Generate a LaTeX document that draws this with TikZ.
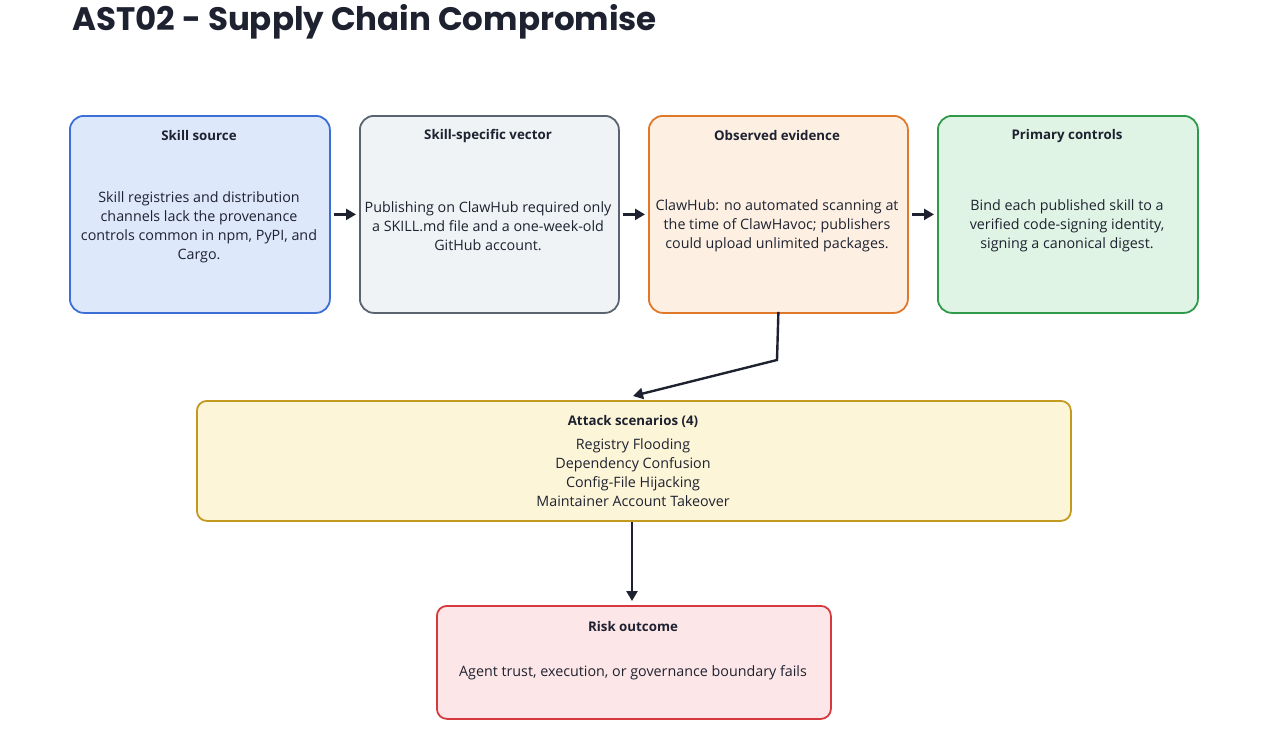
\documentclass[tikz,border=0pt]{standalone}
\usepackage{fontspec}
\setmainfont{Open Sans}
\newfontfamily\titlefont{Poppins}
\usetikzlibrary{arrows.meta}
\definecolor{bluefill}{HTML}{DEE8FB}\definecolor{blueline}{HTML}{3B6FD6}
\definecolor{grayfill}{HTML}{EFF3F5}\definecolor{grayline}{HTML}{5A6470}
\definecolor{orfill}{HTML}{FDF0E3}\definecolor{orline}{HTML}{E0782A}
\definecolor{grfill}{HTML}{E0F4E5}\definecolor{grline}{HTML}{2E9A4A}
\definecolor{yefill}{HTML}{FDF5D8}\definecolor{yeline}{HTML}{C49A1E}
\definecolor{refill}{HTML}{FDE6E7}\definecolor{reline}{HTML}{D63A3F}
\definecolor{ink}{HTML}{1E2230}
\tikzset{
  card/.style={draw, line width=1.8pt, rounded corners=14pt, anchor=north west, inner sep=0pt},
  hd/.style={font=\fontsize{13.3}{15}\selectfont\bfseries, text=ink},
  bd/.style={font=\fontsize{14.3}{19}\selectfont, text=ink, align=center},
  arr/.style={draw=ink, line width=2.4pt, -{Triangle[length=10pt,width=11pt]}}
}
\begin{document}
\begin{tikzpicture}[x=1pt,y=-1pt]
\useasboundingbox (0,0) rectangle (1279,745);
\node[anchor=west, font=\titlefont\fontsize{32.5}{36}\selectfont\bfseries, text=ink] (title) at (69,22) {AST02 - Supply Chain Compromise};
% boxes
\node[card, fill=bluefill, draw=blueline, minimum width=260pt, minimum height=197pt] (b1) at (69,115) {};
\node[card, fill=grayfill, draw=grayline, minimum width=259pt, minimum height=197pt] (b2) at (359,115) {};
\node[card, fill=orfill, draw=orline, minimum width=259pt, minimum height=197pt] (b3) at (648,115) {};
\node[card, fill=grfill, draw=grline, minimum width=260pt, minimum height=197pt] (b4) at (937,115) {};
\node[card, fill=yefill, draw=yeline, minimum width=874pt, minimum height=120pt, rounded corners=10pt] (b5) at (196,400) {};
\node[card, fill=refill, draw=reline, minimum width=394pt, minimum height=113pt, rounded corners=10pt] (b6) at (436,605) {};
% texts
\node[hd] (h1) at (199,136) {Skill source};
\node[bd] (t1) at (199,227) {Skill registries and distribution\\channels lack the provenance\\controls common in npm, PyPI, and\\Cargo.};
\node[hd] (h2) at (488,136) {Skill-specific vector};
\node[bd] (t2) at (488,226) {Publishing on ClawHub required only\\a SKILL.md file and a one-week-old\\GitHub account.};
\node[hd] (h3) at (777,136) {Observed evidence};
\node[bd] (t3) at (777,226) {ClawHub: no automated scanning at\\the time of ClawHavoc; publishers\\could upload unlimited packages.};
\node[hd] (h4) at (1067,136) {Primary controls};
\node[bd] (t4) at (1067,226) {Bind each published skill to a\\verified code-signing identity,\\signing a canonical digest.};
\node[hd] (h5) at (633,421) {Attack scenarios (4)};
\node[bd] (t5) at (633,473) {Registry Flooding\\Dependency Confusion\\Config-File Hijacking\\Maintainer Account Takeover};
\node[hd] (h6) at (633,627) {Risk outcome};
\node[bd] (t6) at (633,673) {Agent trust, execution, or governance boundary fails};
% arrows
\draw[arr] ([xshift=3pt]b1.east) -- ([xshift=-3pt]b2.west);
\draw[arr] ([xshift=3pt]b2.east) -- ([xshift=-3pt]b3.west);
\draw[arr] ([xshift=3pt]b3.east) -- ([xshift=-3pt]b4.west);
\coordinate (bend) at (777,360);
\coordinate (tgt) at (633,396);
\draw[arr] ([yshift=2pt]b3.south) -- (bend) -- (tgt);
\coordinate (src6) at (632,522);
\coordinate (tgt6) at (632,601);
\draw[arr] (src6) -- (tgt6);
\end{tikzpicture}
\end{document}
